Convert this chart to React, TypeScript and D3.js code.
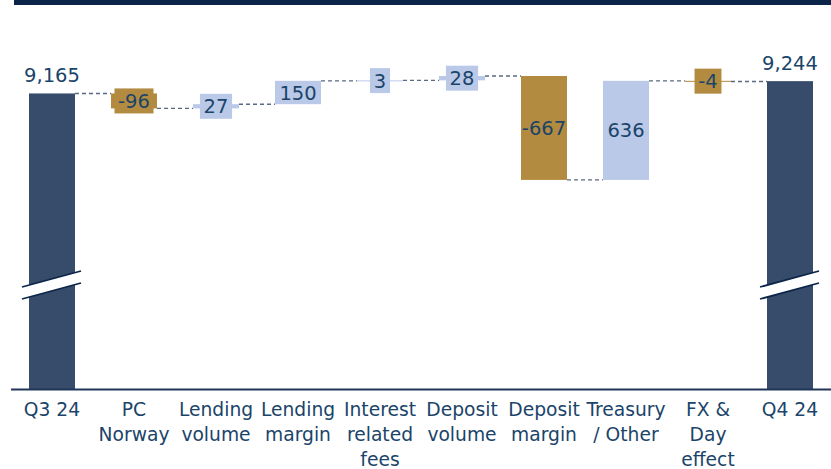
import React from "react";
import * as d3 from "d3";

const categories = [
  "Q3 24",
  "PC Norway",
  "Lending volume",
  "Lending margin",
  "Interest related fees",
  "Deposit volume",
  "Deposit margin",
  "Treasury / Other",
  "FX & Day effect",
  "Q4 24",
];
const tickLines = [
  ["Q3 24"],
  ["PC", "Norway"],
  ["Lending", "volume"],
  ["Lending", "margin"],
  ["Interest", "related", "fees"],
  ["Deposit", "volume"],
  ["Deposit", "margin"],
  ["Treasury", "/ Other"],
  ["FX &", "Day", "effect"],
  ["Q4 24"],
];
const values = [9165, -96, 27, 150, 3, 28, -667, 636, -4, 9244];
const kinds = ["total", "delta", "delta", "delta", "delta", "delta", "delta", "delta", "delta", "total"];
const valueLabels = ["9,165", "-96", "27", "150", "3", "28", "-667", "636", "-4", "9,244"];

const W = 831;
const H = 469;
const BASE = 389;
const FONT = "'DejaVu Sans', sans-serif";
const C_TOTAL = "#374c6b";
const C_NEG = "#b38b40";
const C_POS = "#bac9e8";
const C_TEXT = "#1a4469";
const C_NAVY = "#0b2548";

export default function App() {
  const x = d3
    .scaleBand<string>()
    .domain(categories)
    .range([11, 831])
    .paddingInner(0.439)
    .paddingOuter(0.2195);
  const y = d3.scaleLinear().domain([7268, 9277]).range([BASE, 76]);
  const bw = x.bandwidth();

  let level = 0;
  const bars = values.map((v, i) => {
    if (kinds[i] === "total") {
      level = v;
      return { i, start: 0, end: v, total: true, v };
    }
    const start = level;
    level = level + v;
    return { i, start, end: level, total: false, v };
  });

  const color = (b: any) => (b.total ? C_TOTAL : b.v < 0 ? C_NEG : C_POS);

  const charW = (s: string) => {
    let w = 0;
    for (const ch of s) {
      if (ch === "-") w += 0.361;
      else if (ch === ",") w += 0.318;
      else w += 0.636;
    }
    return w * 19;
  };

  return (
    <svg
      width={W}
      height={H}
      style={{ position: "absolute", left: 0, top: 0, background: "#fff" }}
      fontFamily={FONT}
    >
      <rect x={14} y={0} width={W - 14} height={5} fill={C_NAVY} />

      {bars.slice(0, -1).map((b, k) => {
        const next = bars[k + 1];
        const lv = b.end;
        const x1 = (x(categories[b.i]) as number) + bw;
        const x2 = x(categories[next.i]) as number;
        return (
          <line
            key={"c" + k}
            x1={x1}
            x2={x2}
            y1={y(lv)}
            y2={y(lv)}
            stroke="#5a6a80"
            strokeWidth={1.4}
            strokeDasharray="4,3"
          />
        );
      })}

      {bars.map((b) => {
        const x0 = x(categories[b.i]) as number;
        const yTop = b.total ? y(b.end) : y(Math.max(b.start, b.end));
        const yBot = b.total ? BASE : y(Math.min(b.start, b.end));
        return (
          <rect
            key={"b" + b.i}
            x={x0}
            y={yTop}
            width={bw}
            height={Math.max(1, yBot - yTop)}
            fill={color(b)}
          />
        );
      })}

      {bars
        .filter((b) => b.total)
        .map((b) => {
          const cx = (x(categories[b.i]) as number) + bw / 2;
          const xl = cx - 30;
          const xr = cx + 29;
          return (
            <g key={"br" + b.i}>
              <polygon
                points={`${xl},${287} ${xr},${271} ${xr},${283} ${xl},${299}`}
                fill="#fff"
              />
              <line x1={xl} y1={287} x2={xr} y2={271} stroke={C_NAVY} strokeWidth={1.8} />
              <line x1={xl} y1={299} x2={xr} y2={283} stroke={C_NAVY} strokeWidth={1.8} />
            </g>
          );
        })}

      {bars.map((b) => {
        const cx = (x(categories[b.i]) as number) + bw / 2;
        const label = valueLabels[b.i];
        if (b.total) {
          return (
            <text
              key={"l" + b.i}
              x={cx}
              y={y(b.end) - 11}
              textAnchor="middle"
              fontSize={19.5}
              fill={C_TEXT}
            >
              {label}
            </text>
          );
        }
        const y1 = y(b.start);
        const y2 = y(b.end);
        const mid = (y1 + y2) / 2;
        const hpx = Math.abs(y1 - y2);
        const tw = charW(label);
        return (
          <g key={"l" + b.i}>
            {hpx < 20 && (
              <rect
                x={cx - tw / 2 - 4}
                y={mid - 12.5}
                width={tw + 8}
                height={25}
                fill={color(b)}
              />
            )}
            <text
              x={cx}
              y={mid}
              dy="0.36em"
              textAnchor="middle"
              fontSize={19.5}
              fill={C_TEXT}
            >
              {label}
            </text>
          </g>
        );
      })}

      <line x1={11} x2={W} y1={BASE + 0.5} y2={BASE + 0.5} stroke="#1f3658" strokeWidth={2} />
      {tickLines.map((lines, i) => {
        const cx = (x(categories[i]) as number) + bw / 2;
        return (
          <text key={"t" + i} x={cx} textAnchor="middle" fontSize={18.7} fill={C_TEXT}>
            {lines.map((ln, j) => (
              <tspan key={j} x={cx} y={416 + j * 25}>
                {ln}
              </tspan>
            ))}
          </text>
        );
      })}
    </svg>
  );
}
